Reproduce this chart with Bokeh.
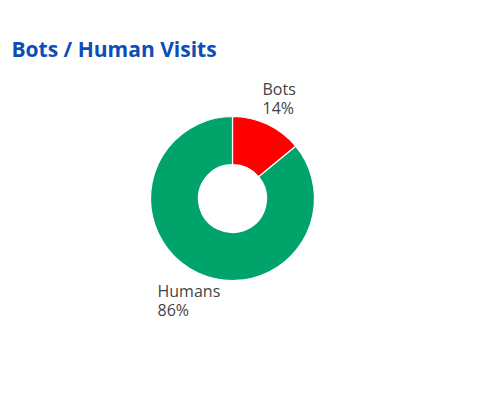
import numpy as np
from bokeh.plotting import figure
from bokeh.models import Range1d, ColumnDataSource
from bokeh.core.properties import value
from bokeh.embed import file_html
from bokeh.resources import INLINE

categories = ["Bots", "Humans"]
shares = [14, 86]
colors = ["#ff0000", "#00a36a"]
title_text = "Bots / Human Visits"

W, H = 478, 385
p = figure(width=W, height=H, output_backend="svg", toolbar_location=None,
           x_range=Range1d(0, W), y_range=Range1d(0, H), min_border=0)
p.axis.visible = False
p.grid.visible = False
p.outline_line_color = None
p.background_fill_color = "white"

vals = np.array(shares, dtype=float)
frac = vals / vals.sum()
cum = np.concatenate([[0], np.cumsum(frac)])
start = np.pi / 2 - cum[:-1] * 2 * np.pi
end = np.pi / 2 - cum[1:] * 2 * np.pi

cx, cy = 232.0, H - 198.0
src = ColumnDataSource(dict(start=start, end=end, color=colors, cat=categories))
p.annular_wedge(x=cx, y=cy, inner_radius=34, outer_radius=82,
                inner_radius_units="screen", outer_radius_units="screen",
                start_angle="start", end_angle="end", direction="clock",
                fill_color="color", line_color="white", line_width=1.2, source=src)

# labels
lab_pos = [(262, H - 88), (157, H - 290)]
for (lx, ly), c, f in zip(lab_pos, categories, frac):
    p.text(x=[lx], y=[ly], text=[c], text_font=value("Open Sans"),
           text_font_size="16px", text_color="#444444", text_baseline="alphabetic")
    p.text(x=[lx], y=[ly - 19], text=[f"{round(f*100)}%"], text_font=value("Open Sans"),
           text_font_size="16px", text_color="#444444", text_baseline="alphabetic")

p.text(x=[11], y=[H - 48], text=[title_text], text_font=value("Open Sans"),
       text_font_size="21px", text_font_style="bold", text_color="#0d4db5",
       text_baseline="alphabetic")

open("out.html", "w").write(file_html(p, INLINE))
